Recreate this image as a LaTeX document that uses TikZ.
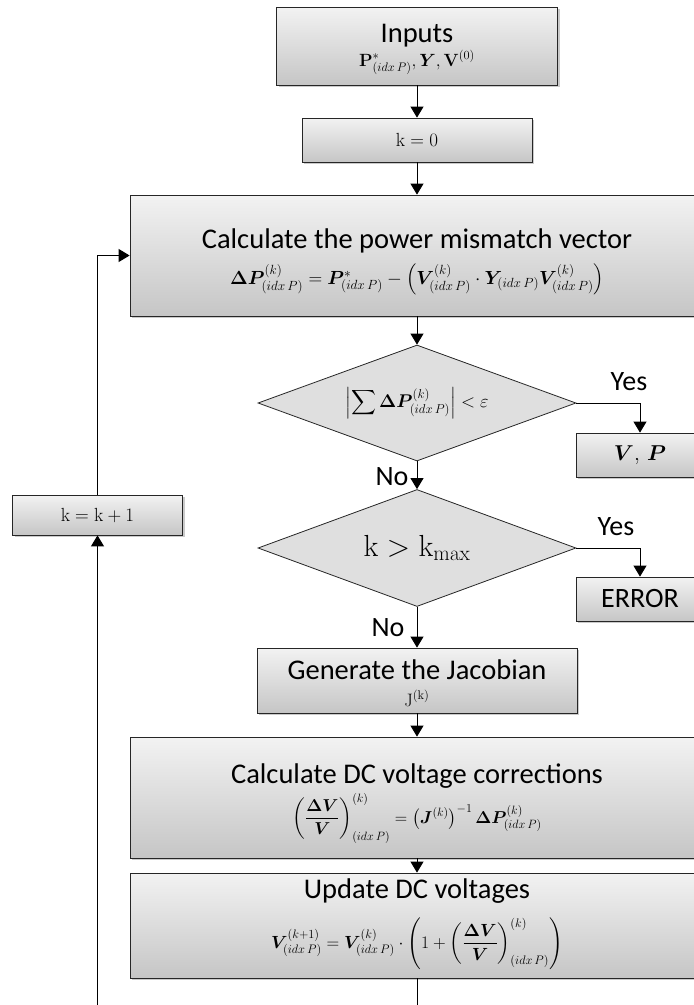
\documentclass[tikz,border=0pt]{standalone}
\usepackage{fix-cm}
\usepackage{amsmath}
\usepackage{bm}
\usepackage[no-math]{fontspec}
\setmainfont{Carlito}
\usetikzlibrary{arrows.meta,shapes.geometric,shadows}
\newcommand{\mth}[1]{\fontsize{#1}{#1}\selectfont}
\newcommand{\ip}{{(idx\,P)}}
\begin{document}
\begin{tikzpicture}[x=1pt,y=-1pt,
  box/.style={draw=black!85, line width=0.8pt, top color=gray!10, bottom color=gray!45,
    drop shadow={shadow xshift=2pt,shadow yshift=-2pt,opacity=0.35,fill=black!60},
    inner sep=0pt, align=center},
  dia/.style={draw=black!85, line width=0.8pt, fill=gray!25, shape=diamond, inner sep=0pt},
  flow/.style={draw=black, line width=1pt, -{Triangle[width=13pt,length=11pt]}},
  plain/.style={draw=black, line width=1pt},
  ttl/.style={font=\fontsize{28.5}{32}\selectfont, inner sep=0pt, anchor=base},
  frm/.style={inner sep=0pt, anchor=base},
  lbl/.style={font=\fontsize{28}{32}\selectfont, inner sep=0pt}]
\useasboundingbox (0,0) rectangle (694,1005);
\clip (0,0) rectangle (694,1005);
\coordinate (bot) at (0,1012);

% Inputs
\node[box, minimum width=281pt, minimum height=78pt] (inputs) at (417,46) {};
\node[ttl] (inputsT) at (417,42) {Inputs};
\node[frm] (inputsM) at (417,66) {\mth{17.7}$\mathbf{P}^{*}_{\ip}, \bm{Y}, \mathbf{V}^{(0)}$};
% k = 0
\node[box, minimum width=230pt, minimum height=44pt] (k0) at (417,140)
  {\mth{19}$\mathrm{k}=0$};
% power mismatch
\node[box, minimum width=574pt, minimum height=121pt] (calc) at (417,255.5) {};
\node[ttl] (calcT) at (417,248) {Calculate the power mismatch vector};
\node[frm] (calcM) at (417,284) {\mth{19}$\bm{\Delta P}^{(k)}_{\ip} = \bm{P}^{*}_{\ip} - \left(\bm{V}^{(k)}_{\ip}\cdot \bm{Y}_{\ip}\bm{V}^{(k)}_{\ip}\right)$};
% decision 1
\node[dia, minimum width=318pt, minimum height=116pt] (d1) at (417,403) {};
\node[inner sep=0pt] (d1t) at (d1) {\mth{18.4}$\displaystyle\left|\sum \bm{\Delta P}^{(k)}_{\ip}\right| < \varepsilon$};
\node[box, minimum width=128pt, minimum height=44pt] (vp) at (640,455)
  {\mth{21.5}$\bm{V},\,\bm{P}$};
% decision 2
\node[dia, minimum width=318pt, minimum height=117pt] (d2) at (417,548) {};
\node[inner sep=0pt] (d2t) at (d2) {\mth{30.5}$\mathrm{k}>\mathrm{k}_{\mathrm{max}}$};
\node[box, minimum width=128pt, minimum height=44pt] (err) at (640,599)
  {\fontsize{28}{32}\selectfont ERROR};
% k = k + 1
\node[box, minimum width=170pt, minimum height=40pt] (kk) at (97.5,515)
  {\mth{19}$\mathrm{k}=\mathrm{k}+1$};
% Jacobian
\node[box, minimum width=320pt, minimum height=65pt] (jac) at (417,680.5) {};
\node[ttl] (jacT) at (417,679) {Generate the Jacobian};
\node[frm] (jacM) at (417,706) {\mth{18}$\mathrm{J}^{(\mathrm{k})}$};
% DC corrections
\node[box, minimum width=574pt, minimum height=121pt] (cdc) at (417,797.5) {};
\node[ttl] (cdcT) at (417,783) {Calculate DC voltage corrections};
\node[frm] (cdcM) at (417,823) {\mth{17.2}$\left(\dfrac{\bm{\Delta V}}{\bm{V}}\right)^{(k)}_{\ip} = \left(\bm{J}^{(k)}\right)^{-1}\bm{\Delta P}^{(k)}_{\ip}$};
% Update
\node[box, minimum width=574pt, minimum height=105pt] (upd) at (417,925.5) {};
\node[ttl] (updT) at (417,898) {Update DC voltages};
\node[frm] (updM) at (417,948) {\mth{17.6}$\bm{V}^{(k+1)}_{\ip} = \bm{V}^{(k)}_{\ip}\cdot\left(1+\left(\dfrac{\bm{\Delta V}}{\bm{V}}\right)^{(k)}_{\ip}\right)$};

\node[lbl] (yes1) at (629,382) {Yes};
\node[lbl] (yes2) at (616,527) {Yes};
\node[lbl] (no1) at (392,477) {No};
\node[lbl] (no2) at (388,628) {No};

\draw[flow] (inputs) -- (k0);
\draw[flow] (k0) -- (calc);
\draw[flow] (calc) -- (d1);
\draw[flow] (d1.east) -| (vp.north);
\draw[flow] (d1.south) -- (d2.north);
\draw[flow] (d2.east) -| (err.north);
\draw[flow] (d2.south) -- (jac.north);
\draw[flow] (jac) -- (cdc);
\draw[flow] (cdc) -- (upd);
\draw[plain] (upd.south) -- (upd.south |- bot);
\draw[flow] (kk.south |- bot) -- (kk.south);
\draw[flow] (kk.north) |- (calc.west);
\end{tikzpicture}
\end{document}
